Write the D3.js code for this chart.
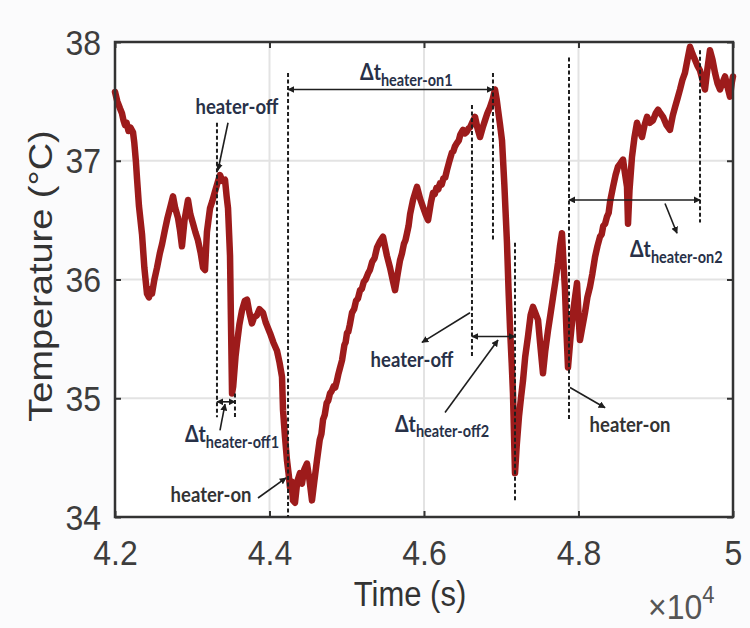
<!DOCTYPE html>
<html>
<head>
<meta charset="utf-8">
<script src="https://cdn.jsdelivr.net/npm/d3@7"></script>
<style>
  body { margin: 0; background: #fbfbfc; }
  svg { display: block; }
</style>
</head>
<body>
<div class="chart"></div>
<script>
// temperature trace, time in seconds
let timeSec = [
  42000, 42030, 42065, 42090, 42110, 42129, 42150, 42175, 42200, 42233,
  42250, 42270, 42285, 42310, 42350, 42380, 42414, 42440, 42460, 42479,
  42510, 42544, 42580, 42610, 42647, 42680, 42720, 42751, 42780, 42815,
  42840, 42867, 42900, 42945, 42975, 43010, 43040, 43074, 43110, 43140,
  43165, 43190, 43230, 43260, 43294, 43330, 43359, 43390, 43424, 43445,
  43463, 43489, 43500, 43515, 43530, 43560, 43579, 43610, 43644, 43680,
  43709, 43740, 43773, 43800, 43838, 43870, 43916, 43950, 44006, 44050,
  44097, 44130, 44162, 44175, 44200, 44226, 44250, 44265, 44285, 44304,
  44330, 44360, 44395, 44420, 44450, 44485, 44520, 44550, 44580, 44615,
  44650, 44672, 44693, 44715, 44740, 44760, 44783, 44805, 44830, 44850,
  44874, 44890, 44910, 44939, 44970, 44985, 45003, 45020, 45040, 45068,
  45095, 45120, 45145, 45172, 45195, 45220, 45245, 45275, 45300, 45330,
  45360, 45392, 45430, 45469, 45520, 45560, 45600, 45625, 45660, 45689,
  45715, 45740, 45760, 45780, 45800, 45820, 45858, 45890, 45909, 45950,
  45987, 46020, 46052, 46090, 46117, 46140, 46160, 46185, 46207, 46230,
  46250, 46275, 46297, 46330, 46362, 46380, 46400, 46427, 46450, 46470,
  46505, 46530, 46550, 46575, 46595, 46630, 46660, 46690, 46725, 46760,
  46790, 46820, 46854, 46890, 46919, 46940, 46958, 46985, 47010, 47040,
  47074, 47095, 47113, 47135, 47152, 47165, 47178, 47200, 47230, 47255,
  47282, 47310, 47346, 47380, 47411, 47440, 47476, 47505, 47540, 47570,
  47605, 47640, 47670, 47700, 47735, 47760, 47786, 47805, 47825, 47845,
  47864, 47895, 47929, 47955, 47981, 48000, 48019, 48050, 48084, 48115,
  48149, 48180, 48214, 48245, 48278, 48300, 48320, 48345, 48369, 48390,
  48410, 48447, 48480, 48511, 48545, 48576, 48600, 48628, 48641, 48660,
  48692, 48725, 48757, 48790, 48822, 48855, 48887, 48925, 48964, 49000,
  49029, 49060, 49094, 49140, 49184, 49220, 49249, 49280, 49314, 49345,
  49378, 49410, 49443, 49475, 49508, 49540, 49573, 49605, 49637, 49670,
  49702, 49735, 49767, 49800, 49832, 49865, 49897, 49930, 49961, 49985,
  50000
];
let tempC = [
  37.58, 37.50, 37.44, 37.40, 37.34, 37.30, 37.32, 37.25, 37.28, 37.24,
  37.15, 37.00, 36.85, 36.62, 36.38, 36.10, 35.88, 35.85, 35.92, 35.88,
  36.00, 36.10, 36.22, 36.30, 36.42, 36.52, 36.62, 36.70, 36.60, 36.52,
  36.42, 36.28, 36.50, 36.67, 36.55, 36.47, 36.40, 36.33, 36.22, 36.10,
  36.08, 36.40, 36.60, 36.66, 36.74, 36.82, 36.88, 36.83, 36.84, 36.70,
  36.60, 36.20, 35.70, 35.04, 35.10, 35.35, 35.46, 35.62, 35.74, 35.82,
  35.83, 35.72, 35.63, 35.68, 35.70, 35.75, 35.72, 35.64, 35.55, 35.47,
  35.40, 35.30, 35.18, 34.90, 34.68, 34.48, 34.35, 34.25, 34.30, 34.14,
  34.12, 34.30, 34.37, 34.28, 34.40, 34.45, 34.30, 34.14, 34.30, 34.48,
  34.65, 34.70, 34.82, 34.86, 34.96, 34.98, 35.04, 35.06, 35.10, 35.09,
  35.15, 35.20, 35.25, 35.32, 35.45, 35.47, 35.55, 35.56, 35.62, 35.72,
  35.75, 35.82, 35.84, 35.91, 35.92, 35.98, 36.00, 36.05, 36.08, 36.15,
  36.18, 36.27, 36.32, 36.36, 36.20, 36.10, 35.98, 35.91, 36.05, 36.16,
  36.22, 36.30, 36.33, 36.39, 36.45, 36.55, 36.67, 36.74, 36.78, 36.68,
  36.61, 36.55, 36.50, 36.65, 36.73, 36.72, 36.77, 36.76, 36.81, 36.80,
  36.85, 36.86, 36.92, 37.00, 37.07, 37.08, 37.12, 37.15, 37.17, 37.22,
  37.26, 37.23, 37.24, 37.27, 37.28, 37.33, 37.37, 37.28, 37.20, 37.28,
  37.34, 37.40, 37.45, 37.52, 37.60, 37.52, 37.43, 37.30, 37.17, 36.80,
  36.31, 35.90, 35.60, 35.30, 35.04, 34.70, 34.37, 34.60, 34.85, 35.00,
  35.15, 35.35, 35.52, 35.70, 35.77, 35.72, 35.66, 35.45, 35.21, 35.40,
  35.57, 35.72, 35.85, 35.98, 36.14, 36.28, 36.39, 36.15, 35.91, 35.55,
  35.26, 35.50, 35.72, 35.85, 35.97, 35.70, 35.49, 35.60, 35.72, 35.85,
  35.94, 36.05, 36.19, 36.28, 36.36, 36.38, 36.45, 36.47, 36.53, 36.56,
  36.66, 36.78, 36.88, 36.95, 36.98, 37.01, 36.90, 36.78, 36.47, 36.75,
  37.03, 37.20, 37.32, 37.25, 37.20, 37.30, 37.37, 37.32, 37.34, 37.40,
  37.43, 37.40, 37.37, 37.30, 37.26, 37.38, 37.45, 37.52, 37.60, 37.68,
  37.74, 37.85, 37.96, 37.90, 37.85, 37.80, 37.76, 37.68, 37.60, 37.78,
  37.93, 37.85, 37.74, 37.65, 37.60, 37.66, 37.71, 37.62, 37.54, 37.66,
  37.71
];

let xTicks = [42000, 44000, 46000, 48000, 50000];
let yTicks = [34, 35, 36, 37, 38];

// dashed markers: time, top temp, bottom temp
let dashedT = [43320, 43553, 44240, 46893, 46621, 47178, 47877, 49573];
let dashedTop = [37.32, 35.04, 37.74, 37.74, 37.47, 36.31, 37.87, 37.93];
let dashedBottom = [34.84, 34.84, 34.0, 36.33, 35.35, 34.14, 34.82, 36.48];

// Δt spans: start, end, temp level
let spanStart = [43320, 44240, 46621, 47877];
let spanEnd = [43553, 46893, 47178, 49573];
let spanTemp = [34.97, 37.60, 35.52, 36.67];

// pointer arrows: [t1, T1, t2, T2]
let pointers = [
  [43463, 37.32, 43333, 36.92],
  [43359, 34.73, 43424, 34.95],
  [43851, 34.16, 44214, 34.33],
  [46595, 35.72, 45974, 35.47],
  [46272, 34.88, 46958, 35.49],
  [47890, 35.09, 48343, 34.92],
  [49120, 36.64, 49275, 36.39]
];

let plainLabels = ["heater-off", "heater-on", "heater-off", "heater-on"];
let plainT = [43579, 43243, 45845, 48667];
let plainTemp = [37.39, 34.13, 35.26, 34.72];

let deltaSubs = ["heater-off1", "heater-on1", "heater-off2", "heater-on2"];
let deltaT = [42906, 45172, 45625, 48667];
let deltaTemp = [34.63, 37.68, 34.72, 36.19];

let svgWidth = 750;
let svgHeight = 628;
let margin = { top: 42, right: 17, bottom: 111, left: 115 };
let width = svgWidth - margin.left - margin.right;
let height = svgHeight - margin.top - margin.bottom;
let stretch = 1.12;
let axisFont = "'Liberation Sans', Arial, sans-serif";
let noteFont = "Lato, 'Open Sans', sans-serif";

let svg = d3.select(".chart")
  .append("svg")
  .attr("width", svgWidth)
  .attr("height", svgHeight);

let defs = svg.append("defs");
defs.append("marker")
  .attr("id", "head")
  .attr("viewBox", "0 0 10 10")
  .attr("refX", 9)
  .attr("refY", 5)
  .attr("markerWidth", 7)
  .attr("markerHeight", 7)
  .attr("markerUnits", "userSpaceOnUse")
  .attr("orient", "auto-start-reverse")
  .append("path")
  .attr("d", "M0,0 L10,5 L0,10 Z")
  .attr("fill", "#1e1e1e");

let chartGroup = svg.append("g")
  .attr("transform", `translate(${margin.left}, ${margin.top})`);

chartGroup.append("rect")
  .attr("width", width)
  .attr("height", height)
  .attr("fill", "#ffffff");

let xScale = d3.scaleLinear().domain([42000, 50000]).range([0, width]);
let yScale = d3.scaleLinear().domain([34, 38]).range([height, 0]);

// grid
chartGroup.append("g")
  .selectAll("line.gx")
  .data(xTicks)
  .enter()
  .append("line")
  .attr("x1", d => xScale(d))
  .attr("x2", d => xScale(d))
  .attr("y1", 0)
  .attr("y2", height)
  .attr("stroke", "#e3e3e3")
  .attr("stroke-width", 2);

chartGroup.append("g")
  .selectAll("line.gy")
  .data(yTicks)
  .enter()
  .append("line")
  .attr("x1", 0)
  .attr("x2", width)
  .attr("y1", d => yScale(d))
  .attr("y2", d => yScale(d))
  .attr("stroke", "#e3e3e3")
  .attr("stroke-width", 2);

// temperature trace
let points = timeSec.map((t, i) => [t, tempC[i]]);
let line = d3.line()
  .x(d => xScale(d[0]))
  .y(d => yScale(d[1]));

chartGroup.append("path")
  .datum(points)
  .attr("d", line)
  .attr("fill", "none")
  .attr("stroke", "#9d1b1b")
  .attr("stroke-width", 6.5)
  .attr("stroke-linejoin", "round")
  .attr("stroke-linecap", "round");

// axes
let xAxis = d3.axisBottom(xScale)
  .tickValues(xTicks)
  .tickSize(-6)
  .tickPadding(0)
  .tickFormat(d => d / 1e4);
let yAxis = d3.axisLeft(yScale)
  .tickValues(yTicks)
  .tickSize(-6)
  .tickPadding(0)
  .tickFormat(d3.format("d"));

let xg = chartGroup.append("g")
  .attr("transform", `translate(0, ${height})`)
  .call(xAxis);
let yg = chartGroup.append("g").call(yAxis);

chartGroup.append("g")
  .call(d3.axisTop(xScale).tickValues(xTicks).tickSize(-6).tickFormat(""));
chartGroup.append("g")
  .attr("transform", `translate(${width}, 0)`)
  .call(d3.axisRight(yScale).tickValues(yTicks).tickSize(-6).tickFormat(""));

chartGroup.selectAll(".domain").remove();
chartGroup.selectAll(".tick line")
  .attr("stroke", "#333")
  .attr("stroke-width", 2);

xg.selectAll(".tick text")
  .attr("y", null)
  .attr("dy", null)
  .attr("transform", `translate(0, 48) scale(1, ${stretch})`)
  .attr("font-family", axisFont)
  .attr("font-size", 32)
  .attr("fill", "#3d3d3d")
  .attr("text-anchor", "middle");

yg.selectAll(".tick text")
  .attr("x", null)
  .attr("dy", null)
  .attr("transform", `translate(-14, 12) scale(1, ${stretch})`)
  .attr("font-family", axisFont)
  .attr("font-size", 32)
  .attr("fill", "#3d3d3d")
  .attr("text-anchor", "end");

// frame
chartGroup.append("rect")
  .attr("width", width)
  .attr("height", height)
  .attr("fill", "none")
  .attr("stroke", "#333")
  .attr("stroke-width", 2.5);

// annotations
let notes = chartGroup.append("g");

notes.selectAll("line.dash")
  .data(dashedT)
  .enter()
  .append("line")
  .attr("x1", d => xScale(d))
  .attr("x2", d => xScale(d))
  .attr("y1", (d, i) => yScale(dashedTop[i]))
  .attr("y2", (d, i) => yScale(dashedBottom[i]))
  .attr("stroke", "#1e1e1e")
  .attr("stroke-width", 2)
  .attr("stroke-dasharray", "4,2.5");

notes.selectAll("line.span")
  .data(spanStart)
  .enter()
  .append("line")
  .attr("x1", d => xScale(d))
  .attr("x2", (d, i) => xScale(spanEnd[i]))
  .attr("y1", (d, i) => yScale(spanTemp[i]))
  .attr("y2", (d, i) => yScale(spanTemp[i]))
  .attr("stroke", "#1e1e1e")
  .attr("stroke-width", 1.6)
  .attr("marker-start", "url(#head)")
  .attr("marker-end", "url(#head)");

notes.selectAll("line.pointer")
  .data(pointers)
  .enter()
  .append("line")
  .attr("x1", d => xScale(d[0]))
  .attr("y1", d => yScale(d[1]))
  .attr("x2", d => xScale(d[2]))
  .attr("y2", d => yScale(d[3]))
  .attr("stroke", "#1e1e1e")
  .attr("stroke-width", 1.6)
  .attr("marker-end", "url(#head)");

notes.selectAll("text.plain")
  .data(plainLabels)
  .enter()
  .append("text")
  .attr("transform", (d, i) => `translate(${xScale(plainT[i])}, ${yScale(plainTemp[i])}) scale(1, ${stretch})`)
  .attr("text-anchor", "middle")
  .attr("font-family", noteFont)
  .attr("font-weight", "bold")
  .attr("font-size", 18.5)
  .attr("fill", (d, i) => i % 2 === 0 ? "#283148" : "#333333")
  .text(d => d);

let deltaText = notes.selectAll("text.delta")
  .data(deltaSubs)
  .enter()
  .append("text")
  .attr("transform", (d, i) => `translate(${xScale(deltaT[i])}, ${yScale(deltaTemp[i])}) scale(1, ${stretch})`)
  .attr("font-family", noteFont)
  .attr("font-weight", "bold")
  .attr("fill", "#283148");

deltaText.append("tspan")
  .attr("font-size", 19.5)
  .text("Δt");
deltaText.append("tspan")
  .attr("font-size", 14.5)
  .attr("dy", 5)
  .text(d => d);

// axis titles
svg.append("text")
  .attr("transform", `translate(410, 606) scale(1, ${stretch})`)
  .attr("text-anchor", "middle")
  .attr("font-family", axisFont)
  .attr("font-size", 31)
  .attr("fill", "#333")
  .text("Time (s)");

svg.append("text")
  .attr("transform", `translate(52, 276) scale(1, 1.15) rotate(-90)`)
  .attr("text-anchor", "middle")
  .attr("font-family", axisFont)
  .attr("font-size", 33)
  .attr("fill", "#333")
  .text("Temperature (°C)");

let expo = svg.append("text")
  .attr("transform", `translate(648, 619) scale(1, 1.08)`)
  .attr("font-family", axisFont)
  .attr("font-size", 32)
  .attr("fill", "#555");
expo.append("tspan").text("×10");
expo.append("tspan")
  .attr("font-size", 22)
  .attr("dy", -15)
  .text("4");
</script>
</body>
</html>
